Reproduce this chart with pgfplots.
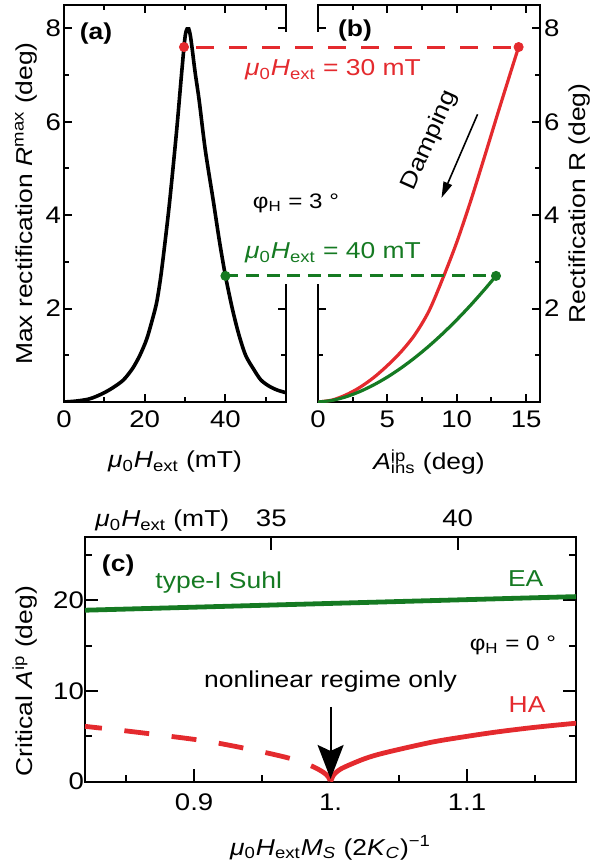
\documentclass[border=0pt]{standalone}
\usepackage{fontspec}
\setmainfont{Liberation Sans}[FakeStretch=1.15]
\usepackage{pgfplots}
\pgfplotsset{compat=1.18}
\usetikzlibrary{arrows.meta}
\definecolor{myred}{HTML}{E42A2E}
\definecolor{mygreen}{HTML}{157A22}
\newcommand{\fs}{\fontsize{11.5}{13.5}\selectfont}
\newcommand{\fst}{\fontsize{12}{14}\selectfont}
\newcommand{\fsp}{\fontsize{10.5}{12.5}\selectfont}
\newcommand{\Hext}{\textit{μ}\textsubscript{0}\textit{H}\textsubscript{ext}}

\pgfplotsset{
  panel/.style={
    scale only axis,
    tick align=inside,
    axis line style={line width=1.2pt},
    tick style={line width=1pt, black},
    major tick length=4pt,
    minor tick length=2.5pt,
    tick label style={font=\fst},
    /pgf/number format/assume math mode=true,
  },
}

\begin{document}
\begin{tikzpicture}
% ---- (a)
\begin{axis}[panel,
  at={(32pt,-201pt)}, anchor=south west,
  width=111pt, height=198.5pt,
  xmin=0, xmax=55, ymin=0, ymax=8.5,
  xtick={0,20,40}, minor xtick={10,30,50},
  ytick={2,4,6,8}, minor ytick={1,3,5,7},
  xlabel={\Hext\ (mT)},
  ylabel={Max rectification \textit{R}\textsuperscript{max} (deg)},
  every axis x label/.style={at={(axis description cs:0.5,-0.151)},anchor=center,font=\fs},
  every axis y label/.style={at={(axis description cs:-0.171,0.5)},rotate=90,anchor=center,font=\fs},
  xticklabel style={yshift=-1pt},
  yticklabel style={xshift=2pt},
]
\addplot[black, line width=1.8pt, smooth] coordinates {
  (0,0) (3,0.02) (6,0.06) (8,0.12) (10,0.2) (12,0.3) (14.7,0.47) (17,0.72)
  (18.8,1.0) (20.5,1.35) (22,1.8) (23,2.15) (24,2.7) (25,3.4) (26,4.15)
  (27,5.0) (28,5.9) (29,6.9) (29.73,7.6) (30.1,7.88) (30.5,7.99) (30.9,7.99)
  (31.3,7.85) (31.7,7.6) (32.5,7.05) (33.5,6.45) (35,5.4) (37,4.3) (38.5,3.45)
  (40,2.70) (41.7,2.0) (43.3,1.45) (45,1.0) (47,0.7) (48.8,0.47) (51,0.33)
  (53,0.25) (55,0.2)};
\addplot[only marks, mark=*, mark size=2.3pt, myred] coordinates {(29.73,7.6)};
\addplot[only marks, mark=*, mark size=2.3pt, mygreen] coordinates {(40,2.70)};
\node[font=\bfseries\fs] at (axis cs:7.93,7.88) {(a)};
\coordinate (ra) at (axis cs:29.73,7.6);
\coordinate (ga) at (axis cs:40,2.70);
\end{axis}

% ---- (b)
\begin{axis}[panel,
  at={(159pt,-201pt)}, anchor=south west,
  width=111pt, height=198.5pt,
  xmin=0, xmax=16, ymin=0, ymax=8.5,
  xtick={0,5,10,15}, minor xtick={2.5,7.5,12.5},
  ytick={2,4,6,8}, minor ytick={1,3,5,7},
  yticklabel pos=right,
  xlabel={\textit{A}\rlap{\textsuperscript{ip}}\textsubscript{ins} (deg)},
  ylabel={Rectification R (deg)},
  every axis x label/.style={at={(axis description cs:0.5,-0.151)},anchor=center,font=\fs},
  every axis y label/.style={at={(axis description cs:1.18,0.5)},rotate=90,anchor=center,font=\fs},
  xticklabel style={yshift=-1pt},
  yticklabel style={xshift=-1.5pt},
]
\addplot[myred, line width=1.6pt, smooth] coordinates {
  (0,0) (1,0.04) (2,0.15) (3,0.31) (4,0.52) (5,0.78) (6,1.08) (7,1.45)
  (8,1.95) (9,2.65) (10,3.42) (11,4.3) (12,5.25) (13,6.22) (14,7.17) (14.46,7.6)};
\addplot[mygreen, line width=1.6pt, smooth] coordinates {
  (0,0) (1,0.034) (2,0.11) (3,0.222) (4,0.364) (5,0.534) (6,0.731) (7,0.953)
  (8,1.199) (9,1.468) (10,1.76) (11,2.073) (12,2.408) (12.83,2.70)};
\addplot[only marks, mark=*, mark size=2.3pt, myred] coordinates {(14.46,7.6)};
\addplot[only marks, mark=*, mark size=2.3pt, mygreen] coordinates {(12.83,2.70)};
\node[font=\bfseries\fs] at (axis cs:2.67,7.95) {(b)};
\draw[-{Triangle[length=8pt,width=4.5pt]}, line width=0.8pt] (axis cs:11.5,6.16) -- (axis cs:8.9,4.37);
\node[rotate=66, font=\fs] at (axis cs:8.05,5.6) {Damping};
\coordinate (rb) at (axis cs:14.46,7.6);
\coordinate (gb) at (axis cs:12.83,2.70);
\coordinate (t30) at (axis cs:1.08,7.11);
\coordinate (t40) at (axis cs:1.08,3.19);
\coordinate (tphi) at (axis cs:-1.59,4.26);
\end{axis}

% gap between (a) and (b), dashed connectors and labels
\fill[white] (138pt,-16pt) rectangle (164pt,-142pt);
\draw[myred, line width=1.5pt, dash pattern=on 9pt off 7.5pt, dash phase=10.4pt] (ra) -- (rb);
\draw[mygreen, line width=1.5pt, dash pattern=on 6.5pt off 3.8pt] (ga) -- (gb);
\node[myred, font=\fs] at (t30) {\Hext\ = 30 mT};
\node[mygreen, font=\fs] at (t40) {\Hext\ = 40 mT};
\node[font=\fsp] at (tphi) {φ\textsubscript{H} = 3 °};

% ---- (c)
\begin{axis}[panel,
  at={(42.5pt,-390.85pt)}, anchor=south west,
  width=245.6pt, height=122.5pt,
  xmin=0.82, xmax=1.18, ymin=0, ymax=27,
  xtick={0.9,1.0,1.1}, xticklabels={0.9,1.,1.1},
  minor xtick={0.85,0.95,1.05,1.15},
  ytick={0,10,20}, minor ytick={5,15,25},
  xtick pos=left,
  major tick length=6.5pt, minor tick length=3.5pt,
  xlabel={\Hext\textit{M}\textsubscript{\textit{S}} (2\textit{K}\textsubscript{\textit{C}})\textsuperscript{−1}},
  ylabel={Critical \textit{A}\textsuperscript{ip} (deg)},
  every axis x label/.style={at={(axis description cs:0.5,-0.27)},anchor=center,font=\fs},
  every axis y label/.style={at={(axis description cs:-0.122,0.41)},rotate=90,anchor=center,font=\fs},
  xticklabel style={yshift=-2.7pt},
  yticklabel style={xshift=3pt},
]
\addplot[mygreen, line width=2.4pt] coordinates {(0.82,18.9) (1.0,19.65) (1.18,20.4)};
\addplot[myred, line width=2.4pt, smooth, dash pattern=on 12.5pt off 11.3pt, dash phase=4pt] coordinates {
  (0.82,6.1) (0.85,5.6) (0.88,5.05) (0.91,4.45) (0.94,3.6) (0.96,2.95)
  (0.972,2.5) (0.98,2.1) (0.985,1.8) (0.99,1.45) (0.995,1.0) (0.998,0.6) (1.0,0)};
\addplot[myred, line width=2.4pt, smooth] coordinates {
  (1.0,0) (1.002,0.7) (1.005,1.15) (1.01,1.6) (1.0252,2.55) (1.04,3.2)
  (1.0739,4.35) (1.1,5.0) (1.1226,5.5) (1.15,6.0) (1.18,6.45)};
\draw[-{Stealth[length=17pt,width=13pt,inset=3pt]}, line width=1pt] (axis cs:1,8.26) -- (axis cs:1,0.3);
\node[font=\bfseries\fs] at (axis cs:0.8443,23.77) {(c)};
\node[mygreen, font=\fs] at (axis cs:0.918,22.0) {type-I Suhl};
\node[mygreen, font=\fs] at (axis cs:1.143,22.4) {EA};
\node[font=\fsp] at (axis cs:1.1336,15.05) {φ\textsubscript{H} = 0 °};
\node[font=\fs] at (axis cs:1.0,11.0) {nonlinear regime only};
\node[myred, font=\fs] at (axis cs:1.144,8.45) {HA};
\end{axis}

% top axis of (c)
\begin{axis}[
  at={(42.5pt,-390.85pt)}, anchor=south west, scale only axis,
  width=245.6pt, height=122.5pt,
  xmin=30, xmax=43.18, ymin=0, ymax=27,
  axis x line*=top, hide y axis, clip=false,
  xtick={35,40}, minor xtick={},
  tick align=inside, major tick length=6.5pt,
  tick style={line width=1pt, black},
  axis line style={line width=1.2pt},
  tick label style={font=\fst},
  xticklabel style={anchor=base, yshift=5pt},
  /pgf/number format/assume math mode=true,
]
\node[anchor=base west, font=\fs, xshift=1.7pt, yshift=5pt] at (rel axis cs:0,1) {\Hext\ (mT)};
\end{axis}

\pgfresetboundingbox
\path[use as bounding box] (0,0) rectangle (299pt,-433.5pt);
\end{tikzpicture}
\end{document}
